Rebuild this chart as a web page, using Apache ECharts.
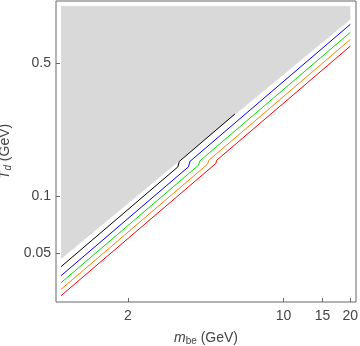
<!DOCTYPE html>
<html>
<head>
    <meta charset="utf-8">
    <title>T_d vs m_be</title>
    <script src="https://cdn.jsdelivr.net/npm/echarts@6.0.0/dist/echarts.min.js"></script>
    <style type="text/css">
        html, body { margin: 0; padding: 0; background: #fff; }
        #chart { width: 360px; height: 346px; }
    </style>
</head>
<body>
    <div id="chart"></div>
    <script type="text/javascript">
        // ticks
        var xTicks = [2, 10, 15, 20];
        var yTicks = [0.05, 0.1, 0.5];

        // excluded (gray) region, outline points
        var mGray = [1, 3.31, 3.43, 20, 20, 1];
        var tGray = [0.0466, 0.149, 0.155, 0.85, 1, 1];

        // curves (m_be, T_d) with the small step in the middle
        var mBlack = [1, 3.35, 3.40, 6.05];
        var tBlack = [0.0425, 0.1424, 0.1521, 0.2705];
        var mBlue = [1, 3.74, 3.80, 20];
        var tBlue = [0.0381, 0.1425, 0.1523, 0.802];
        var mGreen = [1, 4.15, 4.21, 20];
        var tGreen = [0.0350, 0.1453, 0.1532, 0.728];
        var mOrange = [1, 4.56, 4.62, 20];
        var tOrange = [0.0323, 0.1473, 0.1543, 0.668];
        var mRed = [1, 4.96, 5.02, 20];
        var tRed = [0.0299, 0.1483, 0.1546, 0.616];

        function pairs(xs, ys) {
            var out = [];
            for (var i = 0; i < xs.length; i++) out.push([xs[i], ys[i]]);
            return out;
        }

        function curve(xs, ys, color) {
            return {
                type: 'line',
                data: pairs(xs, ys),
                showSymbol: false,
                symbol: 'none',
                silent: true,
                z: 3,
                lineStyle: { color: color, width: 1 }
            };
        }

        var txtColor = '#444';
        var font = 'Liberation Sans';

        var chart = echarts.init(document.getElementById('chart'));
        chart.setOption({
            animation: false,
            grid: {
                left: 56, right: 4, top: 1, bottom: 44,
                containLabel: false, outerBoundsMode: 'none',
                show: true, borderColor: '#666', borderWidth: 1,
                backgroundColor: 'transparent'
            },
            xAxis: {
                type: 'log', logBase: 10,
                min: 0.949, max: 21.2,
                name: '{i|m}{sub|be} (GeV)',
                nameLocation: 'middle', nameGap: 28,
                nameTextStyle: {
                    color: txtColor, fontFamily: font, fontSize: 14,
                    rich: {
                        i: { fontStyle: 'italic', color: txtColor, fontFamily: font, fontSize: 14 },
                        sub: { fontSize: 10, color: txtColor, fontFamily: font, verticalAlign: 'bottom', padding: [6, 0, 0, 0] }
                    }
                },
                axisLine: { show: false },
                axisTick: { inside: true, length: 4, customValues: xTicks, lineStyle: { color: '#666' } },
                minorTick: { show: false },
                axisLabel: { customValues: xTicks, color: txtColor, fontFamily: font, fontSize: 14, margin: 7 },
                splitLine: { show: false }
            },
            yAxis: {
                type: 'log', logBase: 10,
                min: 0.0277, max: 1.064,
                name: '{i|T}{sub|d} (GeV)',
                nameLocation: 'middle', nameGap: 38, nameRotate: 90,
                nameTextStyle: {
                    color: txtColor, fontFamily: font, fontSize: 14,
                    rich: {
                        i: { fontStyle: 'italic', color: txtColor, fontFamily: font, fontSize: 14 },
                        sub: { fontStyle: 'italic', fontSize: 10, color: txtColor, fontFamily: font, verticalAlign: 'bottom', padding: [6, 0, 0, 0] }
                    }
                },
                axisLine: { show: false },
                axisTick: { inside: true, length: 4, customValues: yTicks, lineStyle: { color: '#666' } },
                minorTick: { show: false },
                axisLabel: { customValues: yTicks, color: txtColor, fontFamily: font, fontSize: 14, margin: 5 },
                splitLine: { show: false }
            },
            series: [
                {
                    type: 'custom',
                    silent: true,
                    z: 1,
                    data: [[1, 1]],
                    renderItem: function (params, api) {
                        var pts = [];
                        for (var i = 0; i < mGray.length; i++) {
                            pts.push(api.coord([mGray[i], tGray[i]]));
                        }
                        return { type: 'polygon', shape: { points: pts }, style: { fill: '#d9d9d9' } };
                    }
                },
                curve(mBlack, tBlack, '#000000'),
                curve(mBlue, tBlue, '#0000ff'),
                curve(mGreen, tGreen, '#00e000'),
                curve(mOrange, tOrange, '#ff8000'),
                curve(mRed, tRed, '#ff0000')
            ]
        });
    </script>
</body>
</html>
